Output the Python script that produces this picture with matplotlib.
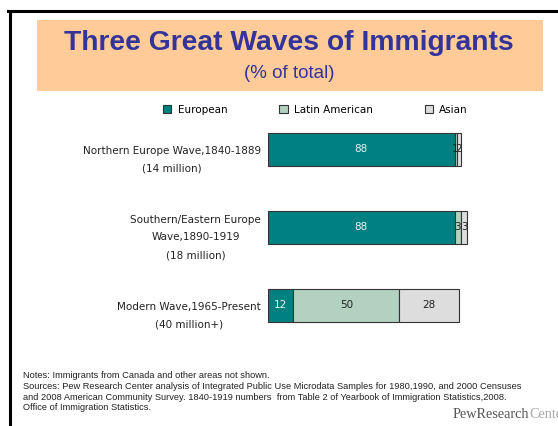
import matplotlib
matplotlib.use('Agg')
import matplotlib.pyplot as plt
from matplotlib.patches import Rectangle, Patch
from matplotlib.lines import Line2D
from matplotlib.transforms import ScaledTranslation

# Data (% of total)
waves = ["Northern Europe Wave,1840-1889\n(14 million)",
         "Southern/Eastern Europe\nWave,1890-1919\n(18 million)",
         "Modern Wave,1965-Present\n(40 million+)"]
series_names = ["European", "Latin American", "Asian"]
european = [88, 88, 12]
latin_american = [1, 3, 50]
asian = [2, 3, 28]

colors = ["#008080", "#B3D1C1", "#DDDDDD"]
label_colors = ["#E6F2F2", "#222222", "#222222"]

notes = ("Notes: Immigrants from Canada and other areas not shown.\n"
         "Sources: Pew Research Center analysis of Integrated Public Use Microdata Samples for 1980,1990, and 2000 Censuses\n"
         "and 2008 American Community Survey. 1840-1919 numbers  from Table 2 of Yearbook of Immigration Statistics,2008.\n"
         "Office of Immigration Statistics.")

W, H = 558, 426
fig = plt.figure(figsize=(W / 100, H / 100), dpi=100)

# frame lines (top and left)
fig.add_artist(Line2D([8 / W, 1], [1 - 11 / H, 1 - 11 / H], color="black", lw=2.2))
fig.add_artist(Line2D([10 / W, 10 / W], [0, 1 - 11 / H], color="black", lw=2.2))

# title box
fig.add_artist(Rectangle((37 / W, 1 - 91 / H), (543 - 37) / W, 71 / H,
                         facecolor="#FFCC99", edgecolor="none"))
fig.text(289 / W, 1 - 43 / H, "Three Great Waves of Immigrants", ha="center", va="center",
         fontsize=20.3, fontweight="bold", color="#333399", family="Liberation Sans")
fig.text(289 / W, 1 - 73 / H, "(% of total)", ha="center", va="center",
         fontsize=13.5, color="#333399", family="Liberation Sans")

# bar area
ax = fig.add_axes([268 / W, (H - 344.5) / H, 212 / W, 234 / H])
y = list(range(len(waves)))
lefts = [0] * len(waves)
for vals, name, c, lc in zip([european, latin_american, asian], series_names, colors, label_colors):
    bars = ax.barh(y, vals, left=lefts, height=0.423, color=c, edgecolor="#333333",
                   linewidth=0.8, label=name)
    ax.bar_label(bars, labels=[str(v) for v in vals], label_type="center",
                 color=lc, fontsize=7.5)
    lefts = [l + v for l, v in zip(lefts, vals)]

ax.set_xlim(0, 100)
ax.set_ylim(2.5, -0.5)
ax.set_xticks([])
ax.set_yticks(y, labels=waves)
ax.tick_params(axis="y", length=0, pad=5, labelsize=7.5, labelcolor="#222222")
for lab in ax.get_yticklabels():
    lab.set_multialignment("center")
    lab.set_linespacing(1.95)
    lab.set_transform(lab.get_transform() + ScaledTranslation(0, -3.7 / 72, fig.dpi_scale_trans))
for s in ax.spines.values():
    s.set_visible(False)

# legend
handles = [Patch(facecolor=c, edgecolor="#333333", linewidth=0.8) for c in colors]
fig.legend(handles, series_names, loc="center left", bbox_to_anchor=(163 / W, 1 - 110 / H),
           ncol=3, frameon=False, fontsize=7.5, handlelength=0.8, handleheight=0.8,
           handletextpad=0.6, columnspacing=5.0, borderaxespad=0, borderpad=0)

# notes
fig.text(23 / W, 1 - 371 / H, notes, ha="left", va="top", fontsize=6.7,
         family="Liberation Sans", color="#222222", linespacing=1.25)

# logo
t1 = fig.text(453 / W, 1 - 415 / H, "PewResearch", ha="left", va="center",
              fontsize=10.3, family="Liberation Serif", color="#555555")
ax.annotate("Center", xy=(1, 0), xycoords=t1, ha="left", va="bottom",
            fontsize=10.3, family="Liberation Serif", color="#AAAAAA", annotation_clip=False)

fig.savefig("out.png", dpi=100)
